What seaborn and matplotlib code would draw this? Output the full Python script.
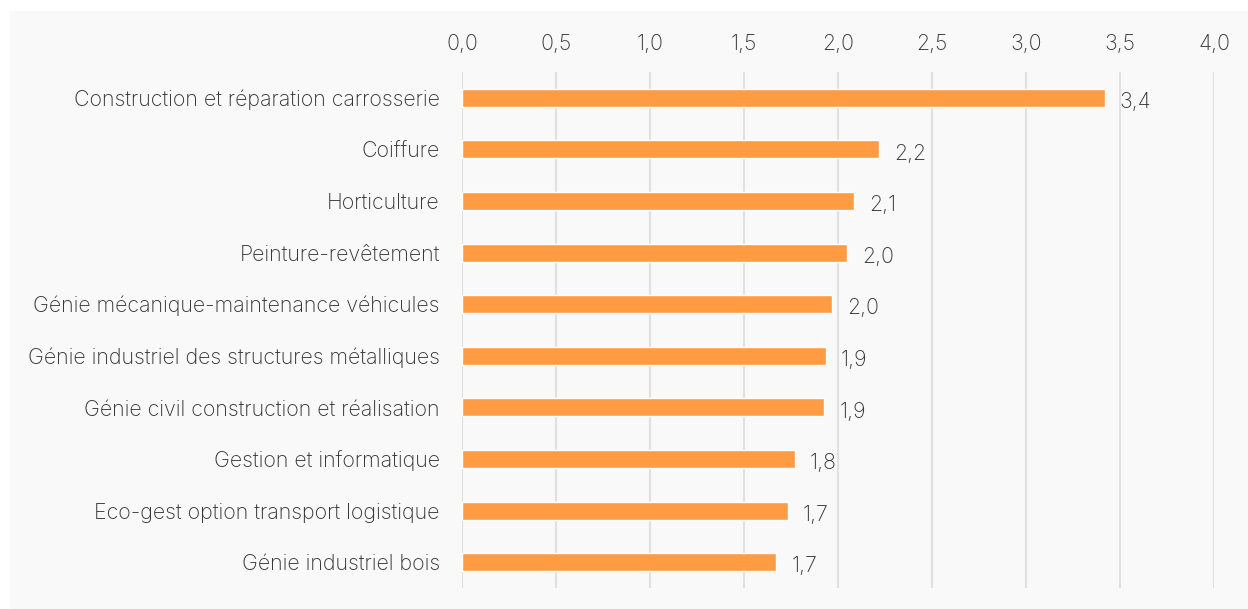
import matplotlib.pyplot as plt
import seaborn as sns
import pandas as pd
from matplotlib.patches import Rectangle
from matplotlib.ticker import FuncFormatter

# Data
formations = [
    "Construction et réparation carrosserie",
    "Coiffure",
    "Horticulture",
    "Peinture-revêtement",
    "Génie mécanique-maintenance véhicules",
    "Génie industriel des structures métalliques",
    "Génie civil construction et réalisation",
    "Gestion et informatique",
    "Eco-gest option transport logistique",
    "Génie industriel bois",
]
valeurs = [3.418, 2.216, 2.087, 2.050, 1.966, 1.934, 1.927, 1.769, 1.732, 1.670]
etiquettes = ["3,4", "2,2", "2,1", "2,0", "2,0", "1,9", "1,9", "1,8", "1,7", "1,7"]
graduations = [0, 0.5, 1.0, 1.5, 2.0, 2.5, 3.0, 3.5, 4.0]

df = pd.DataFrame({"formation": formations, "valeur": valeurs})

sns.set_style("white")
plt.rcParams['font.family'] = ['Inter', 'DejaVu Sans']
plt.rcParams['font.weight'] = 'light'

text_col = "#333333"
grid_col = "#e0e0e0"
bg_col = "#f9f9f9"
fs = 15.4

fig = plt.figure(figsize=(12.48, 6.09), dpi=100, facecolor="white")
# light grey panel behind the chart
fig.patches.append(Rectangle((10 / 1248, 0), 1, 1 - 11 / 609, transform=fig.transFigure,
                             facecolor=bg_col, edgecolor="none", zorder=-10))

ax = fig.add_axes([462 / 1248, 1 - 588 / 609, 752 / 1248, 516 / 609])
ax.set_zorder(1)
ax.patch.set_alpha(0)

sns.barplot(data=df, x="valeur", y="formation", color="#ff9b42", width=0.35,
            saturation=1, ax=ax, zorder=3)

ax.set_xlim(0, 4.0)
ax.set_ylim(9.5, -0.5)
ax.set_xticks(graduations)
ax.xaxis.set_major_formatter(FuncFormatter(lambda v, p: f"{v:.1f}".replace(".", ",")))
ax.xaxis.tick_top()
ax.grid(axis="x", color=grid_col, linewidth=1.5, zorder=0)
ax.set_axisbelow(True)
ax.tick_params(axis="x", length=0, pad=13, labelsize=fs, labelcolor=text_col)
ax.tick_params(axis="y", length=0, pad=16, labelsize=fs, labelcolor=text_col)
ax.set_xlabel("")
ax.set_ylabel("")
for s in ax.spines.values():
    s.set_visible(False)

txts = ax.bar_label(ax.containers[0], labels=etiquettes, padding=11, fontsize=fs,
                    color=text_col, fontweight="light")
for t in txts:
    t.xyann = (11, -3)

fig.savefig("out.png", dpi=100, facecolor="white")
